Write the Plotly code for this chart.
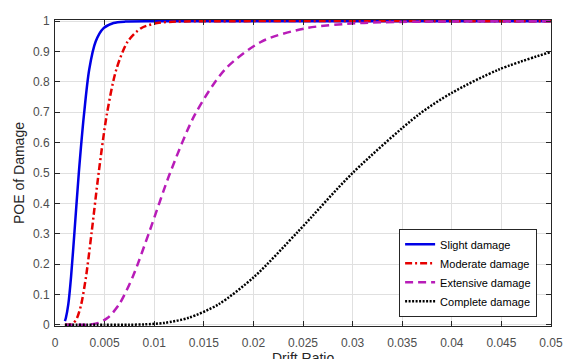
import plotly.graph_objects as go

# Values
slight_x = [0.001, 0.0011, 0.00134, 0.00162, 0.00197, 0.0024, 0.00292, 0.00345, 0.0041, 0.0049, 0.0059, 0.0071, 0.01, 0.02, 0.05]
slight_y = [0.012, 0.023, 0.067, 0.159, 0.309, 0.5, 0.692, 0.841, 0.933, 0.977, 0.994, 0.9987, 1.0, 1.0, 1.0]

moderate_x = [0.001, 0.0014, 0.00159, 0.00188, 0.00223, 0.00264, 0.00313, 0.00371, 0.0044, 0.00522, 0.00618, 0.00733, 0.00868, 0.0103, 0.0122, 0.016, 0.05]
moderate_y = [0.0, 0.0003, 0.0013, 0.0062, 0.023, 0.067, 0.159, 0.309, 0.5, 0.692, 0.841, 0.933, 0.977, 0.994, 0.9987, 1.0, 1.0]

extensive_x = [0.001, 0.0025, 0.0036, 0.00438, 0.00532, 0.00646, 0.00785, 0.00954, 0.0116, 0.0141, 0.01713, 0.02082, 0.0253, 0.0308, 0.0374, 0.045, 0.05]
extensive_y = [0.0, 0.0001, 0.0013, 0.0062, 0.023, 0.067, 0.159, 0.309, 0.5, 0.692, 0.841, 0.933, 0.977, 0.994, 0.9987, 1.0, 1.0]

complete_x = [0.001, 0.005, 0.0075, 0.00904, 0.01104, 0.01348, 0.01646, 0.02011, 0.02456, 0.03, 0.03664, 0.04, 0.04475, 0.05]
complete_y = [0.0, 0.0, 0.0003, 0.0013, 0.0062, 0.023, 0.067, 0.159, 0.309, 0.5, 0.692, 0.764, 0.841, 0.899]

names = ["Slight damage", "Moderate damage", "Extensive damage", "Complete damage"]
colors = ["#0000E6", "#E60000", "#B81CB8", "#000000"]
dashes = ["solid", "7px,3px,2px,3px", "8px,5px", "2px,1.5px"]

x_ticks = [0, 0.005, 0.01, 0.015, 0.02, 0.025, 0.03, 0.035, 0.04, 0.045, 0.05]
x_tick_text = ["0", "0.005", "0.01", "0.015", "0.02", "0.025", "0.03", "0.035", "0.04", "0.045", "0.05"]
y_ticks = [0, 0.1, 0.2, 0.3, 0.4, 0.5, 0.6, 0.7, 0.8, 0.9, 1]
y_tick_text = ["0", "0.1", "0.2", "0.3", "0.4", "0.5", "0.6", "0.7", "0.8", "0.9", "1"]
x_title = "Drift Ratio"
y_title = "POE of Damage"

series = [(slight_x, slight_y), (moderate_x, moderate_y), (extensive_x, extensive_y), (complete_x, complete_y)]

font_family = "Liberation Sans, Arial, sans-serif"
fig = go.Figure()
for (xs, ys), n, c, d in zip(series, names, colors, dashes):
    fig.add_trace(go.Scatter(x=xs, y=ys, mode="lines", name=n,
                             line=dict(color=c, width=2.5, dash=d, shape="spline", smoothing=0.8)))

axis_common = dict(showline=True, linecolor="#262626", linewidth=1, mirror="ticks",
                   ticks="inside", ticklen=5, tickcolor="#262626",
                   showgrid=True, gridcolor="#E0E0E0", gridwidth=1, zeroline=False,
                   automargin=False,
                   tickfont=dict(family=font_family, size=12, color="#4D4D4D"))

fig.update_layout(
    width=572, height=359,
    margin=dict(l=55, r=21, t=20, b=33),
    paper_bgcolor="white", plot_bgcolor="white",
    showlegend=True,
    legend=dict(x=0.972, xanchor="right", y=0.03, yanchor="bottom",
                bgcolor="white", bordercolor="#262626", borderwidth=1,
                font=dict(family=font_family, size=11, color="#000000"),
                tracegroupgap=0, itemwidth=30),
    xaxis=dict(range=[0, 0.05], tickvals=x_ticks, ticktext=x_tick_text,
               ticklabelstandoff=6, **axis_common),
    yaxis=dict(range=[-0.004, 1.004], tickvals=y_ticks, ticktext=y_tick_text,
               ticklabelstandoff=2,
               title=dict(text=y_title, font=dict(family=font_family, size=14, color="#262626"), standoff=5),
               **axis_common),
)

fig.add_annotation(text=x_title, xref="paper", yref="paper", x=0.5, y=0,
                   xanchor="center", yanchor="top", yshift=-22, showarrow=False,
                   font=dict(family=font_family, size=14, color="#262626"))

fig.write_html("out.html")
